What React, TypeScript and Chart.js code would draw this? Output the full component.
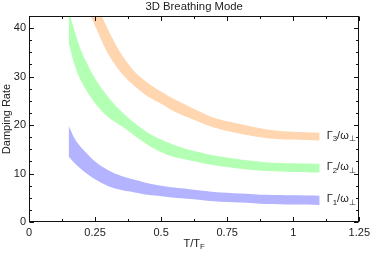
import { useEffect, useRef } from "react";
import { Chart, registerables } from "chart.js";
Chart.register(...registerables);

// Temperature T/T_F sample points
const temps = [0.15, 0.175, 0.2, 0.25, 0.3, 0.35, 0.4, 0.45, 0.5, 0.55, 0.6, 0.7, 0.8, 0.9, 1.0, 1.1];

// Γ1/ω⊥ band (upper / lower)
const gamma1Upper = [19.8, 17.0, 15.2, 12.5, 10.7, 9.5, 8.7, 8.0, 7.5, 7.1, 6.8, 6.2, 5.9, 5.6, 5.5, 5.4];
const gamma1Lower = [13.5, 12.0, 10.8, 8.8, 7.4, 6.6, 6.1, 5.6, 5.3, 5.0, 4.8, 4.3, 4.0, 3.7, 3.6, 3.5];

// Γ2/ω⊥ band
const gamma2Upper = [43.6, 39.0, 35.0, 29.6, 25.8, 22.8, 20.4, 18.4, 17.0, 15.9, 15.0, 13.7, 12.9, 12.3, 12.1, 12.0];
const gamma2Lower = [37.0, 32.0, 28.8, 24.5, 21.6, 19.8, 17.8, 15.9, 14.4, 13.4, 12.8, 11.7, 11.0, 10.5, 10.3, 10.2];

// Γ3/ω⊥ band
const gamma3Upper = [62.0, 56.5, 51.5, 45.6, 39.6, 34.6, 31.0, 28.7, 26.9, 25.3, 24.0, 21.5, 20.2, 19.1, 18.6, 18.4];
const gamma3Lower = [56.0, 51.0, 46.5, 40.5, 34.6, 30.7, 28.0, 25.9, 24.4, 22.8, 21.6, 19.5, 18.2, 17.3, 17.0, 16.8];

const bandColors = ["rgb(179,179,255)", "rgb(179,255,179)", "rgb(255,214,176)"];
const bandSubs = ["1", "2", "3"];

const xTicks = [0, 0.25, 0.5, 0.75, 1, 1.25];
const yTicks = [0, 10, 20, 30, 40];
const xMin = 0, xMax = 1.25, yMin = 0, yMax = 42.5;

const FONT = "'Liberation Sans', Arial, sans-serif";
const TEXT = "#222";

type Part = { t: string; sub?: boolean };

function richWidth(ctx: CanvasRenderingContext2D, parts: Part[], size: number) {
  let w = 0;
  for (const p of parts) {
    ctx.font = `${p.sub ? size * 0.72 : size}px ${FONT}`;
    w += ctx.measureText(p.t).width;
  }
  return w;
}

function drawRich(ctx: CanvasRenderingContext2D, parts: Part[], x: number, y: number, size: number) {
  // x = left, y = middle of main text
  let cx = x;
  ctx.textBaseline = "middle";
  ctx.textAlign = "left";
  for (const p of parts) {
    const s = p.sub ? size * 0.72 : size;
    ctx.font = `${s}px ${FONT}`;
    ctx.fillText(p.t, cx, p.sub ? y + size * 0.3 : y);
    cx += ctx.measureText(p.t).width;
  }
}

const framePlugin = {
  id: "mmaFrame",
  afterDatasetsDraw(chart: any) {
    const { ctx, chartArea } = chart;
    const { left, right, top, bottom } = chartArea;
    const xs = chart.scales.x;
    const ys = chart.scales.y;
    ctx.save();
    ctx.strokeStyle = "#111";
    ctx.lineWidth = 1;
    const L = Math.round(left) + 0.5, R = Math.round(right) - 0.5;
    const T = Math.round(top) + 0.5, B = Math.round(bottom) - 0.5;
    ctx.strokeRect(L, T, R - L, B - T);
    ctx.beginPath();
    for (let i = 0; i <= 10; i++) {
      const v = xMin + i * 0.125;
      const px = Math.round(xs.getPixelForValue(v)) + 0.5;
      const len = i % 2 === 0 ? 4.5 : 2.5;
      ctx.moveTo(px, B); ctx.lineTo(px, B - len);
      ctx.moveTo(px, T); ctx.lineTo(px, T + len);
    }
    for (let i = 0; i <= 17; i++) {
      const v = yMin + i * 2.5;
      const py = Math.round(ys.getPixelForValue(v)) + 0.5;
      const len = i % 4 === 0 ? 4.5 : 2.5;
      ctx.moveTo(L, py); ctx.lineTo(L + len, py);
      ctx.moveTo(R, py); ctx.lineTo(R - len, py);
    }
    ctx.stroke();

    // band labels
    ctx.fillStyle = TEXT;
    const ups = [gamma1Upper, gamma2Upper, gamma3Upper];
    const los = [gamma1Lower, gamma2Lower, gamma3Lower];
    for (let b = 0; b < 3; b++) {
      const n = temps.length - 1;
      const px = xs.getPixelForValue(temps[n]) + 7;
      const py = ys.getPixelForValue((ups[b][n] + los[b][n]) / 2) - 1;
      drawRich(ctx, [{ t: "Γ" }, { t: bandSubs[b], sub: true }, { t: "/ω" }, { t: "⊥", sub: true }], px, py, 11);
    }

    // title
    const cx = (left + right) / 2;
    ctx.font = `11.3px ${FONT}`;
    ctx.textAlign = "center";
    ctx.textBaseline = "middle";
    ctx.fillText("3D Breathing Mode", cx, 7);

    // x title
    const xt: Part[] = [{ t: "T/T" }, { t: "F", sub: true }];
    const w = richWidth(ctx, xt, 11);
    drawRich(ctx, xt, cx - w / 2, 244, 11);

    // y title
    ctx.save();
    ctx.translate(7, (top + bottom) / 2);
    ctx.rotate(-Math.PI / 2);
    ctx.font = `11px ${FONT}`;
    ctx.textAlign = "center";
    ctx.textBaseline = "middle";
    ctx.fillText("Damping Rate", 0, 0);
    ctx.restore();
    ctx.restore();
  },
};

function fmt(v: number) {
  return String(v);
}

export default function App() {
  const ref = useRef<HTMLCanvasElement | null>(null);
  useEffect(() => {
    document.body.style.margin = "0";
    const canvas = ref.current!;
    const uppers = [gamma1Upper, gamma2Upper, gamma3Upper];
    const lowers = [gamma1Lower, gamma2Lower, gamma3Lower];
    const datasets: any[] = [];
    for (let b = 0; b < 3; b++) {
      datasets.push({
        data: temps.map((t, i) => ({ x: t, y: lowers[b][i] })),
        borderWidth: 0,
        borderColor: "rgba(0,0,0,0)",
        pointRadius: 0,
        fill: false,
        tension: 0.3,
      });
      datasets.push({
        data: temps.map((t, i) => ({ x: t, y: uppers[b][i] })),
        borderWidth: 0,
        borderColor: "rgba(0,0,0,0)",
        backgroundColor: bandColors[b],
        pointRadius: 0,
        fill: "-1",
        tension: 0.3,
      });
    }
    const chart = new Chart(canvas, {
      type: "line",
      data: { datasets },
      options: {
        animation: false,
        responsive: false,
        devicePixelRatio: 1,
        layout: { padding: { top: 16, right: 11, left: 0, bottom: 0 } },
        plugins: { legend: { display: false }, tooltip: { enabled: false }, title: { display: false } },
        scales: {
          x: {
            type: "linear",
            min: xMin,
            max: xMax,
            border: { display: false },
            grid: { display: false, drawTicks: false },
            afterBuildTicks: (s: any) => { s.ticks = xTicks.map((v) => ({ value: v })); },
            afterFit: (s: any) => { s.height = 32; },
            ticks: {
              callback: (v: any) => fmt(Number(v)),
              color: TEXT,
              font: { family: FONT, size: 11 },
              padding: 4,
              maxRotation: 0,
              autoSkip: false,
            },
          },
          y: {
            type: "linear",
            min: yMin,
            max: yMax,
            border: { display: false },
            grid: { display: false, drawTicks: false },
            afterBuildTicks: (s: any) => { s.ticks = yTicks.map((v) => ({ value: v })); },
            afterFit: (s: any) => { s.width = 29; },
            ticks: {
              callback: (v: any) => fmt(Number(v)),
              color: TEXT,
              font: { family: FONT, size: 11 },
              padding: 3,
              autoSkip: false,
            },
          },
        },
      },
      plugins: [framePlugin],
    });
    return () => chart.destroy();
  }, []);
  return (
    <div style={{ width: 374, height: 254 }}>
      <canvas ref={ref} width={374} height={254} style={{ display: "block", width: 374, height: 254 }} />
    </div>
  );
}
